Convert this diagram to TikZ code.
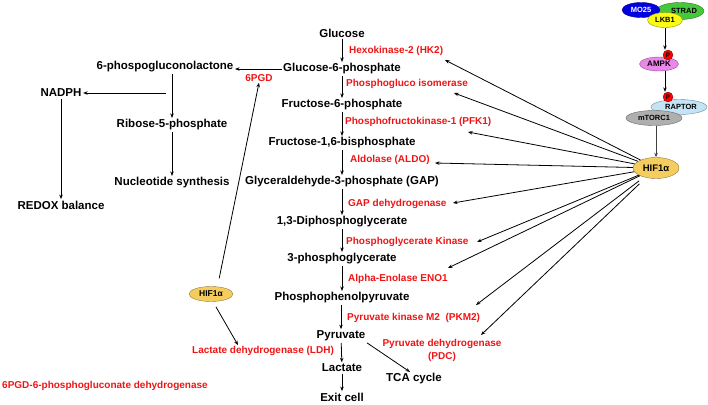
\documentclass[tikz,border=0pt]{standalone}
\usepackage{fontspec}
\setmainfont{Liberation Sans}
\usetikzlibrary{shapes.geometric,arrows.meta,calc}
\definecolor{mocol}{RGB}{0,0,225}
\definecolor{stradcol}{RGB}{70,200,60}
\definecolor{lkbcol}{RGB}{250,250,20}
\definecolor{ampkcol}{RGB}{235,135,235}
\definecolor{raptorcol}{RGB}{195,228,245}
\definecolor{mtorcol}{RGB}{175,175,175}
\definecolor{hifcol}{RGB}{245,205,95}
\definecolor{enzred}{RGB}{240,20,20}
\begin{document}
\begin{tikzpicture}[x=1pt,y=-1pt,
  met/.style={font=\bfseries\fontsize{11.5}{13}\selectfont, inner sep=1.5pt},
  enz/.style={font=\bfseries\fontsize{10}{12}\selectfont, text=enzred, inner sep=1pt},
  arr/.style={-{Stealth[length=4.5pt,width=3.5pt]}, line width=0.8pt},
  ell/.style={ellipse, inner sep=0pt, line width=0.4pt, font=\bfseries\fontsize{7.5}{8}\selectfont},
  pcirc/.style={circle, fill=red, draw=red!50!black, line width=0.3pt, minimum size=10pt, inner sep=0pt, font=\bfseries\fontsize{6.5}{7}\selectfont}]
\useasboundingbox (0,0) rectangle (708,404);

% glycolysis metabolites
\node[met] (glc) at (342,33) {Glucose};
\node[met] (g6p) at (342,69) {Glucose-6-phosphate};
\node[met] (f6p) at (342,105) {Fructose-6-phosphate};
\node[met] (f16) at (342,143) {Fructose-1,6-bisphosphate};
\node[met] (gap) at (342,182) {Glyceraldehyde-3-phosphate (GAP)};
\node[met] (dpg) at (342,222) {1,3-Diphosphoglycerate};
\node[met] (pg3) at (342,259) {3-phosphoglycerate};
\node[met] (pep) at (342,298) {Phosphophenolpyruvate};
\node[met] (pyr) at (341,336) {Pyruvate};
\node[met] (lac) at (342,368) {Lactate};
\node[met] (exit) at (342,397) {Exit cell};
\node[met] (tca) at (414,379) {TCA cycle};

% enzymes
\node[enz, anchor=west] (hk2) at (348,51) {Hexokinase-2 (HK2)};
\node[enz, anchor=west] (pgi) at (345,84) {Phosphogluco isomerase};
\node[enz, anchor=west] (pfk) at (344,122) {Phosphofructokinase-1 (PFK1)};
\node[enz, anchor=west] (ald) at (349,160) {Aldolase (ALDO)};
\node[enz, anchor=west] (gapdh) at (347,204) {GAP dehydrogenase};
\node[enz, anchor=west] (pgk) at (345,242) {Phosphoglycerate Kinase};
\node[enz, anchor=west] (eno) at (347,279) {Alpha-Enolase ENO1};
\node[enz, anchor=west] (pkm) at (346,318) {Pyruvate kinase M2\ \ (PKM2)};
\node[enz, align=center] (pdc) at (442,350) {Pyruvate dehydrogenase\\[1pt](PDC)};
\node[enz] (ldh) at (263,351) {Lactate dehydrogenase (LDH)};
\node[enz] (pgd6) at (259,78) {6PGD};
\node[enz, anchor=west] (legend) at (1,386) {6PGD-6-phosphogluconate dehydrogenase};

% pentose phosphate branch
\node[met] (pgl) at (165,67) {6-phospogluconolactone};
\node[met] (nadph) at (61,93) {NADPH};
\node[met] (r5p) at (172,125) {Ribose-5-phosphate};
\node[met] (nuc) at (172,183) {Nucleotide synthesis};
\node[met] (redox) at (61,205) {REDOX balance};
\coordinate (nbr) at (166,93);

% glycolysis arrows
\draw[arr] (glc) -- (g6p);
\draw[arr] (g6p) -- (f6p);
\draw[arr] (f6p) -- (f16);
\draw[arr] (f16) -- (gap);
\draw[arr] (gap) -- (dpg);
\draw[arr] (dpg) -- (pg3);
\draw[arr] (pg3) -- (pep);
\draw[arr] (pep.south -| pyr.north) -- (pyr);
\draw[arr] (pyr) -- (lac);
\draw[arr] (lac) -- (exit);
\draw[arr] (pyr.south east) -- ([xshift=-4pt]tca.north);

% PPP arrows
\draw[arr] (g6p.west) -- (g6p.west -| pgl.east);
\draw[arr] (pgl.south -| r5p) -- (r5p);
\draw[arr] (r5p) -- (nuc);
\draw[arr] (nbr) -- (nadph);
\draw[arr] (nadph) -- (redox);

% left HIF1a
\node[ell, fill=hifcol, draw=hifcol!60!black, minimum width=44pt, minimum height=15pt, font=\bfseries\fontsize{8.5}{9}\selectfont] (hifL) at (211,294) {HIF1α};
\draw[arr, shorten <=16pt] ([xshift=5pt]hifL.center) -- (pgd6.south);
\draw[arr, shorten <=6pt] ([xshift=2pt]hifL.south) -- ([xshift=-25pt]ldh.north);

% right signalling cascade
\node[ell, fill=stradcol, draw=stradcol!60!black, minimum width=43pt, minimum height=17pt] (strad) at (680,11) {\hspace*{8pt}STRAD};
\node[ell, fill=mocol, draw=mocol!60!black, text=white, minimum width=38pt, minimum height=15pt] (mo25) at (641,10) {MO25};
\node[ell, fill=lkbcol, draw=lkbcol!60!black, minimum width=35pt, minimum height=15pt] (lkb1) at (665,20) {LKB1};
\node[ell, fill=ampkcol, draw=ampkcol!60!black, minimum width=39pt, minimum height=14pt, font=\bfseries\fontsize{8}{9}\selectfont] (ampk) at (659,64) {AMPK};
\node[ell, fill=raptorcol, draw=raptorcol!60!black, minimum width=56pt, minimum height=15pt] (raptor) at (679,107) {\hspace*{4pt}RAPTOR};
\node[ell, fill=mtorcol, draw=mtorcol!60!black, minimum width=56pt, minimum height=15pt] (mtor) at (654,118) {mTORC1};
\node[pcirc] (p1) at (668,55) {P};
\node[pcirc] (p2) at (668,97) {P};
\node[ell, fill=hifcol, draw=hifcol!60!black, minimum width=46pt, minimum height=21pt, font=\bfseries\fontsize{9.5}{10}\selectfont] (hifR) at (656,168) {HIF1α};

\draw[arr] (lkb1.south -| 665,0) -- (p1.north -| 665,0);
\draw[arr] (ampk.south -| 665,0) -- (p2.north -| 665,0);
\draw[arr, line width=0.9pt, draw=black!75] (mtor.south -| hifR.north) -- (hifR.north);

% HIF1a targets
\coordinate (thk) at (445,60);
\coordinate (tpgi) at (454,93);
\coordinate (tpfk) at (468,132);
\coordinate (tald) at (435,163);
\coordinate (tgap) at (453,203);
\coordinate (tpgk) at (477,242);
\coordinate (teno) at (448,268);
\coordinate (tpkm) at (476,305);
\coordinate (tpdc) at (481,335);
\foreach \t in {thk,tpgi,tpfk,tald,tgap,tpgk,teno}
  \draw[arr] (hifR) -- (\t);
\draw[arr, shorten <=6pt] (hifR) -- (tpkm);
\draw[arr, shorten <=9pt] (hifR) -- (tpdc);
\end{tikzpicture}
\end{document}
